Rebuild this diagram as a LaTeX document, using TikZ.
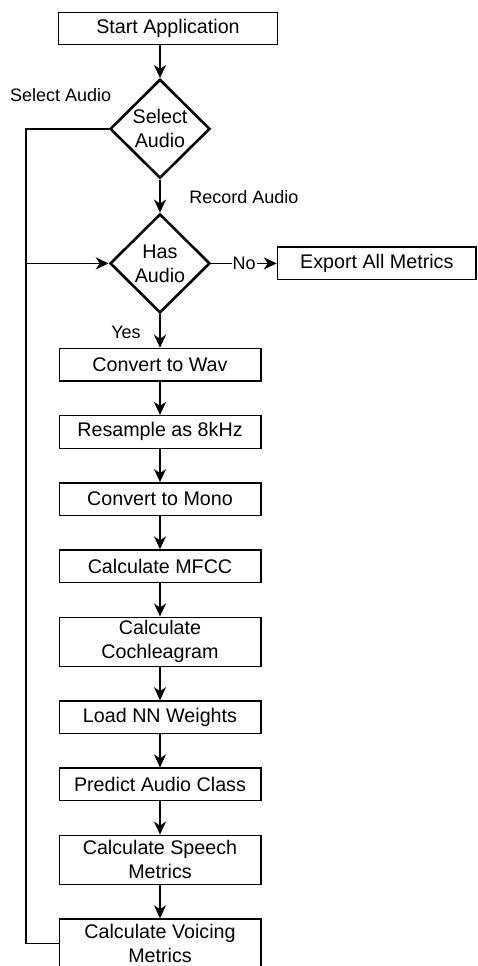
\documentclass[tikz,border=0pt]{standalone}
\usepackage{fontspec}
\setmainfont{Liberation Sans}
\usetikzlibrary{arrows.meta,positioning,calc,shapes.geometric}
\definecolor{flowink}{RGB}{0,0,0}
\newcommand{\boxfont}{\fontsize{19.7pt}{24pt}\selectfont}
\newcommand{\lblfont}{\fontsize{18pt}{22pt}\selectfont}
\tikzset{
  block/.style={
    draw=flowink,
    line width=1.4pt,
    fill=white,
    align=center,
    minimum width=201.6pt,
    minimum height=32.6pt,
    inner sep=2pt,
    font=\boxfont
  },
  tallblock/.style={
    block,
    minimum height=49.1pt
  },
  decision/.style={
    diamond,
    aspect=1,
    draw=flowink,
    line width=2.6pt,
    fill=white,
    inner sep=0pt,
    minimum width=100pt,
    minimum height=99pt,
    align=center,
    font=\boxfont
  },
  lbl/.style={inner sep=1pt,font=\lblfont},
  arr/.style={-{Stealth[length=13pt,width=12pt,inset=4pt]},line width=1.6pt,flowink},
  loopline/.style={line width=1.6pt,flowink}
}

\begin{document}
\begin{tikzpicture}[node distance=33.2pt]
        \useasboundingbox (0,0) rectangle (478pt,-966pt);
        \node[block,minimum width=218.6pt,minimum height=31.6pt] (start) at (168pt,-28.5pt) {Start Application};
        \node[decision,below=33pt of start,xshift=-8pt] (sel) {Select\\Audio};
        \node[decision,below=33pt of sel] (has) {Has\\Audio};
        \node[block,right=65.5pt of has,minimum width=198.6pt] (export) {Export All Metrics};
        \node[block,below=33.5pt of has] (wav) {Convert to Wav};
        \node[block,below=of wav] (resample) {Resample as 8kHz};
        \node[block,below=of resample] (mono) {Convert to Mono};
        \node[block,below=of mono] (mfcc) {Calculate MFCC};
        \node[tallblock,below=of mfcc] (coch) {Calculate\\Cochleagram};
        \node[block,below=of coch] (nnweights) {Load NN Weights};
        \node[block,below=of nnweights] (predict) {Predict Audio Class};
        \node[tallblock,below=of predict] (speech) {Calculate Speech\\Metrics};
        \node[tallblock,below=of speech] (voicing) {Calculate Voicing\\Metrics};
        % edge labels
        \node[lbl] (selectlbl) at ($(sel.west)+(-48pt,33.5pt)$) {Select Audio};
        \node[lbl] (recordlbl) at ($(sel.south)+(84pt,-17pt)$) {Record Audio};
        \node[lbl] (yeslbl) at ($(has.south)+(-34pt,-18.5pt)$) {Yes};
        \coordinate (loop) at ($(sel.west)+(-83pt,0)$);
        \draw[arr] (sel.north |- start.south) -- (sel.north);
        \draw[arr] (sel) -- (has);
        \draw[arr] (has) -- node[lbl,fill=white] (nolbl) {No} (export);
        \draw[arr] (has) -- (wav);
        \draw[arr] (wav) -- (resample);
        \draw[arr] (resample) -- (mono);
        \draw[arr] (mono) -- (mfcc);
        \draw[arr] (mfcc) -- (coch);
        \draw[arr] (coch) -- (nnweights);
        \draw[arr] (nnweights) -- (predict);
        \draw[arr] (predict) -- (speech);
        \draw[arr] (speech) -- (voicing);
        % back to the audio check
        \draw[loopline] (sel.west) -- (loop) |- (voicing.west);
        \draw[arr] (loop |- has.west) -- (has.west);
      \end{tikzpicture}
\end{document}
